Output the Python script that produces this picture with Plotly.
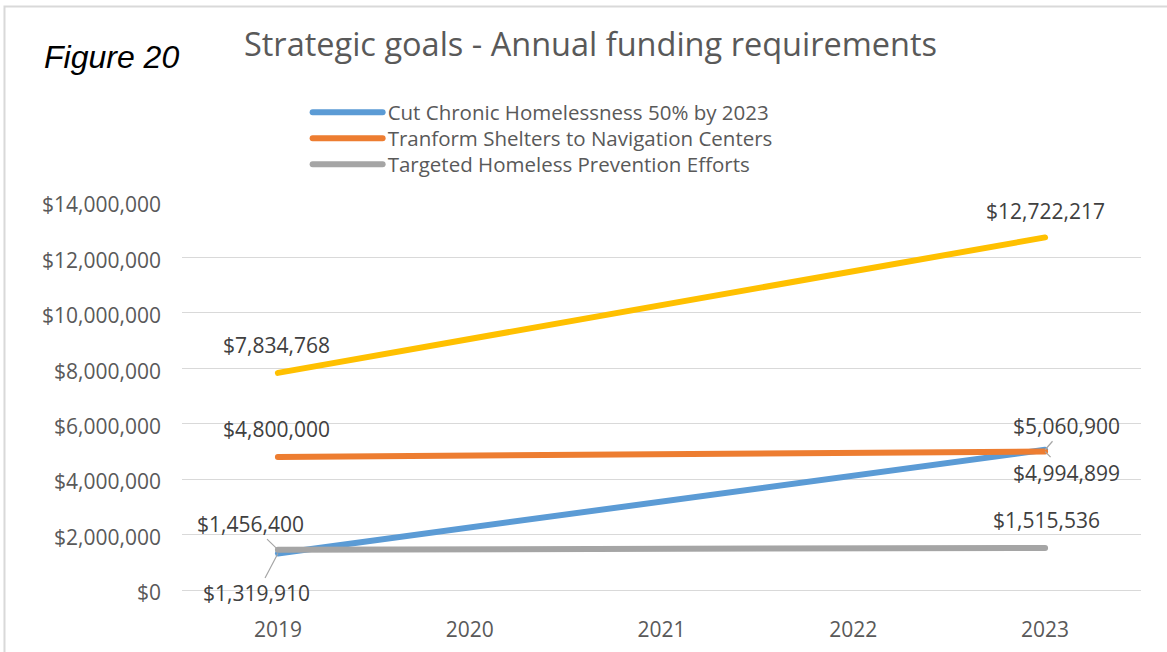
import plotly.graph_objects as go

# ---- data ----
categories = ["2019", "2020", "2021", "2022", "2023"]
point_years = ["2019", "2023"]
chronic = [1319910, 5060900]
shelters = [4800000, 4994899]
prevention = [1456400, 1515536]
total = [7834768, 12722217]
series_names = ["Cut Chronic Homelessness 50% by 2023",
                "Tranform Shelters to Navigation Centers",
                "Targeted Homeless Prevention Efforts"]
title_text = "Strategic goals - Annual funding requirements"
figure_label = "Figure 20"

FONT = "Open Sans"
TICK_COLOR = "#595959"
LABEL_COLOR = "#404040"

fig = go.Figure()
series = [
    (series_names[0], chronic, "#5B9BD5", True, "legend"),
    (series_names[1], shelters, "#ED7D31", True, "legend2"),
    (series_names[2], prevention, "#A5A5A5", True, "legend3"),
    ("Total", total, "#FFC000", False, "legend"),
]
for name, vals, color, show, lg in series:
    fig.add_trace(go.Scatter(
        x=point_years, y=vals, name=name, mode="lines",
        line=dict(color=color, width=6),
        showlegend=show, legend=lg, hoverinfo="skip",
    ))

# data labels: (series values, index, text offset x px, offset y px (down positive), leader)
label_specs = [
    (total, 0, -1, -28, False),
    (total, 1, 0, -26, False),
    (shelters, 0, -1, -28, False),
    (prevention, 1, 1, -28, False),
    (prevention, 0, -27, -26, True),
    (chronic, 0, -21, 40, True),
    (chronic, 1, 21, -24, True),
    (shelters, 1, 21, 21, True),
]
for vals, i, dx, dy, leader in label_specs:
    txt = "${:,.0f}".format(vals[i])
    xi = categories.index(point_years[i])
    if leader:
        fig.add_annotation(
            x=xi, y=vals[i], text=txt, showarrow=True,
            arrowhead=0, arrowwidth=1.2, arrowcolor="#A6A6A6",
            ax=dx, ay=dy, standoff=0,
            font=dict(family=FONT, size=21, color=LABEL_COLOR),
        )
    else:
        fig.add_annotation(
            x=xi, y=vals[i], text=txt, showarrow=False,
            xshift=dx, yshift=-dy,
            font=dict(family=FONT, size=21, color=LABEL_COLOR),
        )

# figure label
fig.add_annotation(
    xref="paper", yref="paper", x=-0.1455, y=1.375, xanchor="left", yanchor="middle",
    text="<i>" + figure_label + "</i>", showarrow=False,
    font=dict(family="Liberation Sans", size=32, color="#000000"),
)

# outer border (top and left visible)
fig.add_shape(type="rect", xref="paper", yref="paper",
              x0=-0.1851, x1=1.2, y0=-0.3, y1=1.504,
              line=dict(color="#D9D9D9", width=2), layer="below")

legend_common = dict(xanchor="left", yanchor="top", itemwidth=70,
                     font=dict(family=FONT, size=20.5, color=TICK_COLOR),
                     bgcolor="rgba(0,0,0,0)")

fig.update_layout(
    width=1167, height=652,
    margin=dict(l=182, r=26, t=202, b=62),
    paper_bgcolor="white", plot_bgcolor="white",
    title=dict(text=title_text, x=0.506, xanchor="center", y=0.931, yanchor="middle",
               font=dict(family=FONT, size=32.5, color=TICK_COLOR)),
    legend=dict(x=0.131, y=1.2824, **legend_common),
    legend2=dict(x=0.131, y=1.2154, **legend_common),
    legend3=dict(x=0.131, y=1.1484, **legend_common),
    xaxis=dict(type="category", categoryorder="array", categoryarray=categories,
               range=[-0.5, 4.5], showgrid=False, showline=False, ticks="",
               ticklabelstandoff=25, automargin=False,
               tickfont=dict(family=FONT, size=21, color=TICK_COLOR), fixedrange=True),
    yaxis=dict(range=[0, 14000000], dtick=2000000, tickformat="$,.0f",
               showgrid=True, gridcolor="#D9D9D9", gridwidth=1,
               zeroline=True, zerolinecolor="#D9D9D9", zerolinewidth=1,
               showline=False, ticks="", ticklabelstandoff=20, ticklabelshift=3,
               automargin=False,
               tickfont=dict(family=FONT, size=21, color=TICK_COLOR)),
    showlegend=True,
)
post = """
document.body.style.margin='0';
document.querySelectorAll('.js-line').forEach(function(p){p.style.strokeLinecap='round';});
"""
fig.write_html("out.html", post_script=post, config={"displayModeBar": False})
